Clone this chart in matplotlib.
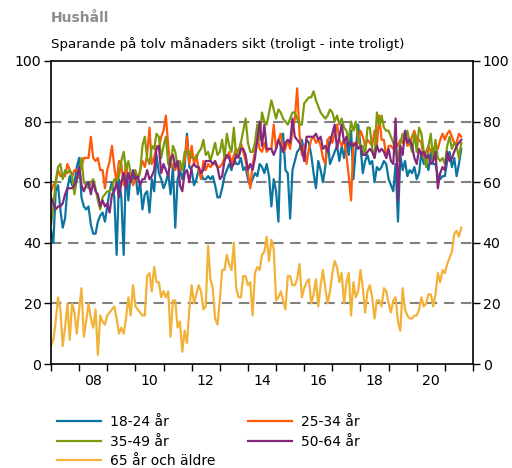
import numpy as np
import matplotlib
matplotlib.use("Agg")
import matplotlib.pyplot as plt

# Månadsdata jan 2007 - aug 2021
start_year = 2007

ar_18_24 = [44, 40, 57, 59, 51, 45, 48, 58, 62, 59,
            60, 65, 68, 55, 52, 51, 52, 46, 43, 43,
            47, 49, 50, 47, 52, 57, 60, 55, 36, 61,
            55, 36, 66, 54, 63, 61, 63, 56, 60, 51,
            56, 57, 50, 61, 57, 69, 63, 61, 58, 60,
            63, 56, 65, 45, 61, 64, 61, 65, 76, 65,
            64, 59, 61, 64, 63, 61, 61, 62, 61, 62,
            59, 55, 55, 58, 62, 64, 66, 64, 68, 66,
            66, 68, 64, 65, 61, 59, 61, 63, 62, 66,
            65, 63, 66, 62, 52, 61, 57, 47, 72, 76,
            64, 63, 48, 64, 67, 70, 71, 74, 70, 74,
            73, 69, 63, 58, 67, 64, 60, 65, 74, 66,
            68, 70, 72, 67, 72, 68, 73, 69, 77, 61,
            71, 79, 72, 63, 67, 69, 66, 67, 60, 65,
            64, 65, 67, 66, 61, 59, 57, 66, 47, 69,
            64, 67, 62, 64, 63, 65, 61, 63, 70, 66,
            67, 64, 70, 66, 66, 62, 61, 62, 62, 67,
            70, 65, 68, 62, 66, 71]

ar_25_34 = [57, 59, 60, 64, 62, 62, 62, 66, 64, 62,
            64, 64, 63, 65, 68, 68, 68, 75, 68, 67,
            68, 64, 64, 58, 64, 67, 72, 65, 60, 67,
            66, 59, 66, 61, 63, 59, 61, 61, 64, 67,
            65, 69, 78, 66, 68, 72, 71, 75, 77, 82,
            72, 65, 66, 64, 67, 64, 65, 67, 75, 66,
            72, 66, 69, 64, 61, 67, 64, 66, 65, 66,
            66, 65, 65, 66, 68, 68, 70, 66, 69, 71,
            70, 73, 70, 67, 63, 58, 66, 70, 75, 71,
            70, 73, 70, 71, 71, 79, 71, 74, 76, 70,
            71, 74, 71, 77, 81, 91, 76, 69, 72, 66,
            71, 74, 75, 73, 74, 72, 68, 66, 74, 75,
            73, 76, 79, 74, 72, 74, 69, 62, 54, 73,
            72, 73, 77, 75, 72, 74, 73, 72, 77, 72,
            82, 74, 74, 68, 72, 72, 71, 73, 72, 74,
            73, 76, 72, 73, 75, 77, 74, 74, 73, 68,
            70, 72, 70, 71, 72, 71, 74, 76, 74, 76,
            77, 75, 73, 73, 76, 75]

ar_35_49 = [46, 52, 60, 65, 66, 61, 64, 63, 64, 62,
            56, 61, 62, 68, 60, 59, 58, 60, 61, 58,
            54, 51, 55, 56, 57, 57, 58, 61, 60, 62,
            67, 70, 64, 67, 63, 63, 64, 61, 63, 72,
            75, 68, 66, 72, 71, 76, 75, 68, 72, 75,
            66, 65, 72, 70, 65, 67, 64, 70, 70, 70,
            68, 68, 68, 70, 71, 74, 69, 70, 67, 70,
            73, 69, 70, 74, 68, 76, 72, 70, 78, 68,
            70, 73, 77, 81, 73, 70, 70, 73, 79, 74,
            83, 80, 79, 83, 87, 84, 81, 84, 83, 81,
            80, 79, 81, 83, 83, 81, 79, 79, 86, 87,
            88, 88, 90, 87, 85, 83, 82, 81, 82, 84,
            83, 80, 82, 79, 81, 78, 77, 74, 80, 77,
            80, 74, 72, 72, 69, 78, 78, 71, 68, 83,
            79, 82, 78, 77, 77, 75, 73, 70, 67, 73,
            76, 74, 77, 73, 70, 76, 70, 78, 76, 70,
            65, 72, 76, 67, 74, 68, 67, 68, 66, 72,
            75, 71, 73, 72, 68, 73]

ar_50_64 = [55, 53, 51, 52, 52, 53, 56, 58, 58, 58,
            59, 61, 65, 59, 57, 59, 60, 56, 60, 57,
            56, 52, 54, 52, 53, 50, 56, 57, 60, 55,
            60, 63, 58, 63, 60, 64, 61, 62, 59, 61,
            61, 64, 61, 62, 64, 71, 72, 63, 66, 64,
            62, 68, 69, 65, 67, 59, 57, 63, 64, 60,
            65, 66, 65, 65, 63, 64, 67, 67, 67, 66,
            67, 65, 61, 62, 67, 69, 68, 65, 66, 69,
            68, 71, 71, 69, 64, 66, 64, 68, 74, 80,
            72, 79, 71, 71, 71, 69, 71, 74, 72, 70,
            73, 74, 73, 81, 75, 74, 73, 71, 67, 75,
            75, 75, 75, 76, 74, 75, 71, 72, 70, 73,
            76, 79, 71, 75, 79, 73, 75, 72, 73, 72,
            73, 71, 72, 69, 69, 70, 71, 70, 68, 72,
            70, 71, 70, 68, 71, 67, 66, 81, 54, 72,
            69, 77, 73, 74, 72, 68, 66, 71, 69, 70,
            68, 69, 66, 67, 70, 58, 63, 65, 64, 70,
            67, 68, 70, 72, 73, 74]

ar_65_plus = [6, 8, 14, 22, 18, 6, 12, 20, 8, 20,
              17, 10, 18, 25, 9, 14, 20, 15, 12, 18,
              3, 16, 14, 13, 16, 17, 18, 19, 15, 10,
              12, 10, 15, 22, 16, 26, 19, 18, 17, 16,
              16, 29, 30, 24, 32, 27, 27, 22, 24, 22,
              24, 9, 21, 21, 12, 14, 4, 11, 7, 18,
              26, 20, 23, 26, 24, 18, 19, 39, 28, 25,
              15, 13, 21, 31, 31, 36, 33, 31, 40, 25,
              22, 22, 29, 29, 26, 27, 16, 30, 32, 31,
              36, 37, 42, 34, 41, 38, 21, 22, 24, 21,
              18, 29, 29, 26, 26, 28, 33, 22, 25, 27,
              28, 20, 23, 28, 19, 26, 31, 25, 20, 24,
              30, 34, 32, 27, 30, 20, 27, 30, 16, 27,
              22, 24, 31, 25, 17, 24, 26, 22, 15, 21,
              21, 19, 25, 24, 20, 17, 21, 22, 14, 11,
              25, 18, 16, 15, 15, 16, 16, 18, 22, 19,
              20, 23, 23, 19, 23, 30, 27, 31, 30, 33,
              35, 37, 43, 44, 42, 45]

etiketter = ['18-24 år', '25-34 år', '35-49 år', '50-64 år', '65 år och äldre']
farger = ['#0b74a0', '#ff5a0a', '#7c9b0c', '#84287c', '#f2b238']
serier = [ar_18_24, ar_25_34, ar_35_49, ar_50_64, ar_65_plus]

t = start_year + np.arange(len(ar_18_24)) / 12.0

fig = plt.figure(figsize=(5.12, 4.68), dpi=100)
ax = fig.add_axes([51/512, 1-364/468, 422/512, 303/468])

linjer = []
for y, c, lab in zip(serier, farger, etiketter):
    l, = ax.plot(t, y, color=c, linewidth=1.6, label=lab)
    linjer.append(l)

# streckade stödlinjer
for g in [20, 40, 60, 80]:
    ax.axhline(g, color='#808080', linestyle=(0, (5, 3.2)), linewidth=1.5, zorder=0)

ax.set_xlim(2007, 2022)
ax.set_ylim(0, 100)
ax.set_yticks([0, 20, 40, 60, 80, 100])
ax.set_xticks(np.arange(2007, 2023))
ax.set_xticklabels([])
ax.set_xticks(np.arange(2008.5, 2021, 2), minor=True)
ax.set_xticklabels(['08', '10', '12', '14', '16', '18', '20'], minor=True)
ax.tick_params(axis='x', which='major', direction='out', length=5, width=1)
ax.tick_params(axis='x', which='minor', length=0, pad=7, labelsize=10.2)
ax.tick_params(axis='y', direction='out', length=5, width=1, right=True,
               labelright=True, labelsize=10.2, pad=2)
for s in ax.spines.values():
    s.set_linewidth(1.2)

fig.text(51/512, 1-18/468, 'Hushåll', fontsize=10, fontweight='bold',
         color='#8c8c8c', va='center', ha='left')
fig.text(51/512, 1-44/468, 'Sparande på tolv månaders sikt (troligt - inte troligt)',
         fontsize=9.6, va='center', ha='left')

ordning = [0, 2, 4, 1, 3]
fig.legend([linjer[i] for i in ordning], [etiketter[i] for i in ordning],
           loc='upper left', bbox_to_anchor=(57/512, 1-415/468), ncol=2,
           frameon=False, fontsize=10, handlelength=3.2, handletextpad=0.65,
           columnspacing=2.3, labelspacing=0.4, borderpad=0, borderaxespad=0)

fig.savefig('out.png', dpi=100)
